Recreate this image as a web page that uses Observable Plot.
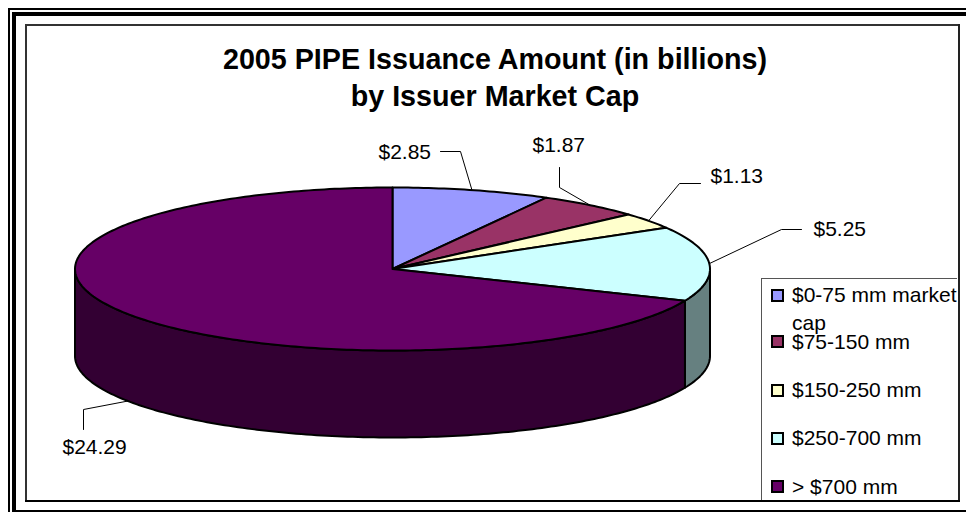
<!DOCTYPE html>
<html>
<head>
<meta charset="utf-8">
<script src="https://cdn.jsdelivr.net/npm/d3@7"></script>
<script src="https://cdn.jsdelivr.net/npm/@observablehq/plot@0.6"></script>
<style>
  html, body { margin: 0; padding: 0; background: #fff; overflow: hidden; }
  #page { position: relative; width: 966px; height: 512px; overflow: hidden; font-family: "Liberation Sans", Arial, sans-serif; color: #000; }
  .bar { position: absolute; background: #000; }
  #title { position: absolute; left: 26px; width: 938px; top: 41px; text-align: center; font-weight: bold; font-size: 28.7px; line-height: 37px; }
  #legend { position: absolute; left: 761px; top: 278px; width: 196px; height: 222px; box-sizing: border-box; border-left: 1px solid #555; border-top: 1px solid #555; }
  .sw { position: absolute; left: 9px; width: 13px; height: 13px; box-sizing: border-box; border: 2px solid #000; }
  .lb { position: absolute; left: 30px; width: 168px; font-size: 21px; line-height: 28px; }
  #chart { position: absolute; left: 0; top: 0; }
  #chart svg { display: block; background: transparent; }
</style>
</head>
<body>
<div id="page">
  <div class="bar" style="left:8px;top:8px;width:958px;height:2px"></div>
  <div class="bar" style="left:12px;top:12px;width:954px;height:4px"></div>
  <div class="bar" style="left:8px;top:8px;width:2px;height:504px"></div>
  <div class="bar" style="left:12px;top:12px;width:4px;height:500px"></div>
  <div class="bar" style="left:12px;top:510px;width:954px;height:2px"></div>
  <div class="bar" style="left:25px;top:24px;width:2px;height:478px;background:#333"></div>
  <div class="bar" style="left:25px;top:24px;width:935px;height:2px;background:#333"></div>
  <div class="bar" style="left:958px;top:24px;width:2px;height:478px;background:#222"></div>
  <div class="bar" style="left:25px;top:500px;width:935px;height:2px"></div>
  <div id="title">2005 PIPE Issuance Amount (in billions)<br>by Issuer Market Cap</div>
  <div id="chart"></div>
  <div id="legend"></div>
</div>
<script>
// Data
const categories = ["$0-75 mm market cap", "$75-150 mm", "$150-250 mm", "$250-700 mm", "> $700 mm"];
const values = [2.85, 1.87, 1.13, 5.25, 24.29];
const colors = ["#9999FF", "#993366", "#FFFFCC", "#CCFFFF", "#660066"];
const sideColors = [null, null, null, "#668080", "#330033"];

// Layout of the tilted pie in the chart's coordinate space
const pieCenter = [392, 268.5], radiusX = 317.5, radiusY = 81.5, pieDepth = 87;
const leaderElbows = [[460, 151, 440, 151], [559, 187, 559, 167], [679, 183, 700, 183], [781, 229, 801, 229], [83, 409, 83, 429]];
const labelAnchors = [[378, 152], [532, 145], [710, 176], [813, 229], [62, 447]];
const legendRowTops = [2, 49, 97, 145, 194];
const swatchTops = [10, 56, 105, 153, 201];

const arcs = d3.pie().sort(null).value(d => d)(values);
const rim = (a, drop = 0) => ({
  x: pieCenter[0] + radiusX * Math.sin(a),
  y: pieCenter[1] - radiusY * Math.cos(a) + drop
});
const arcPoints = (a0, a1, drop = 0) => {
  const n = Math.max(2, Math.ceil((a1 - a0) * 60));
  return d3.range(n + 1).map(i => rim(a0 + (a1 - a0) * i / n, drop));
};
const centerPoint = {x: pieCenter[0], y: pieCenter[1]};

const marks = [];
// Walls: only the part of the rim that faces the viewer (90 to 270 degrees)
arcs.forEach((arc, i) => {
  if (!sideColors[i]) return;
  const a0 = Math.max(arc.startAngle, Math.PI / 2), a1 = Math.min(arc.endAngle, 3 * Math.PI / 2);
  if (a1 <= a0) return;
  const wall = [...arcPoints(a0, a1), ...arcPoints(a0, a1, pieDepth).reverse()];
  wall.push(wall[0]);
  marks.push(Plot.line(wall, {x: "x", y: "y", fill: sideColors[i], stroke: "#000", strokeWidth: 2, strokeLinejoin: "round"}));
});
// Top surface
arcs.forEach((arc, i) => {
  const wedge = [centerPoint, ...arcPoints(arc.startAngle, arc.endAngle), centerPoint];
  marks.push(Plot.line(wedge, {x: "x", y: "y", fill: colors[i], stroke: "#000", strokeWidth: 2, strokeLinejoin: "round"}));
});
// Leader lines
arcs.forEach((arc, i) => {
  const mid = (arc.startAngle + arc.endAngle) / 2;
  const visibleWall = Math.cos(mid) < 0;
  const e = leaderElbows[i];
  const pts = [rim(mid, visibleWall ? pieDepth : 0), {x: e[0], y: e[1]}, {x: e[2], y: e[3]}];
  marks.push(Plot.line(pts, {x: "x", y: "y", stroke: "#000", strokeWidth: 1}));
});
// Value labels
marks.push(Plot.text(values.map((v, i) => ({x: labelAnchors[i][0], y: labelAnchors[i][1], t: "$" + v.toFixed(2)})), {
  x: "x", y: "y", text: "t", textAnchor: "start", fontSize: 21, fill: "#000",
  fontFamily: '"Liberation Sans", Arial, sans-serif'
}));

const plot = Plot.plot({
  width: 966, height: 512, margin: 0,
  x: {domain: [0, 966], range: [0, 966], axis: null},
  y: {domain: [0, 512], range: [0, 512], axis: null},
  style: {background: "transparent"},
  marks
});
document.getElementById("chart").appendChild(plot);

// Legend
const legend = d3.select("#legend");
categories.forEach((c, i) => {
  legend.append("div").attr("class", "sw").style("top", swatchTops[i] + "px").style("background", colors[i]);
  legend.append("div").attr("class", "lb").style("top", legendRowTops[i] + "px").text(c);
});
</script>
</body>
</html>
